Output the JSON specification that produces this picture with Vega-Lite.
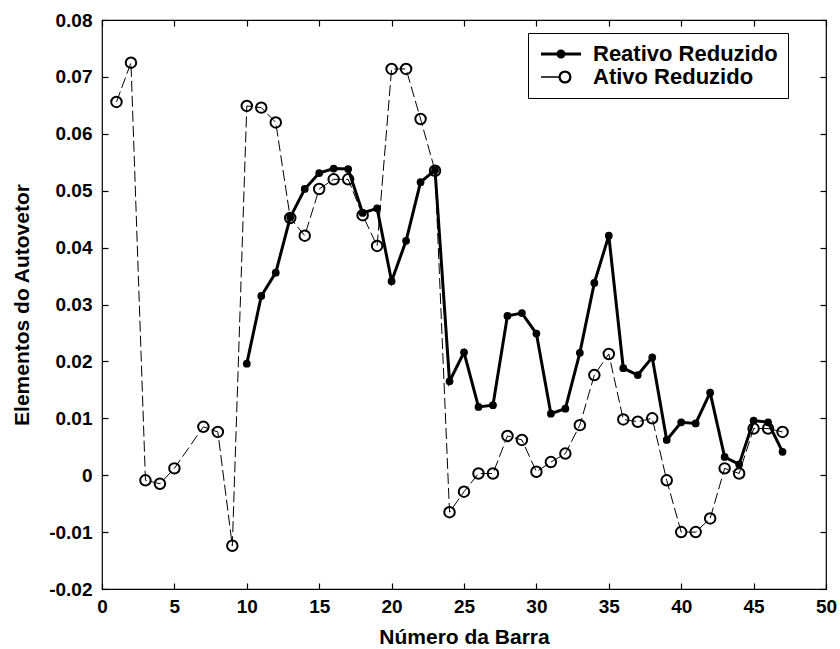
{
  "$schema": "https://vega.github.io/schema/vega-lite/v6.json",
  "width": 724,
  "height": 569,
  "autosize": "none",
  "padding": {"left": 102, "top": 20, "right": 14, "bottom": 60},
  "background": "white",
  "config": {
    "view": {"stroke": "black", "strokeWidth": 1.2},
    "axis": {
      "domain": false,
      "grid": false,
      "ticks": true,
      "tickColor": "black",
      "tickSize": -6,
      "tickWidth": 1.2,
      "labelFont": "Liberation Sans",
      "labelFontWeight": "bold",
      "labelFontSize": 19,
      "labelColor": "black",
      "titleFont": "Liberation Sans",
      "titleFontWeight": "bold",
      "titleFontSize": 21,
      "titleColor": "black"
    }
  },
  "data": {
    "values": [
      {"bar": 10, "serie": "Reativo Reduzido", "valor": 0.0196},
      {"bar": 11, "serie": "Reativo Reduzido", "valor": 0.0315},
      {"bar": 12, "serie": "Reativo Reduzido", "valor": 0.0356},
      {"bar": 13, "serie": "Reativo Reduzido", "valor": 0.0453},
      {"bar": 14, "serie": "Reativo Reduzido", "valor": 0.0503},
      {"bar": 15, "serie": "Reativo Reduzido", "valor": 0.0531},
      {"bar": 16, "serie": "Reativo Reduzido", "valor": 0.0539},
      {"bar": 17, "serie": "Reativo Reduzido", "valor": 0.0538},
      {"bar": 18, "serie": "Reativo Reduzido", "valor": 0.0461},
      {"bar": 19, "serie": "Reativo Reduzido", "valor": 0.0469},
      {"bar": 20, "serie": "Reativo Reduzido", "valor": 0.0341},
      {"bar": 21, "serie": "Reativo Reduzido", "valor": 0.0412},
      {"bar": 22, "serie": "Reativo Reduzido", "valor": 0.0515},
      {"bar": 23, "serie": "Reativo Reduzido", "valor": 0.0536},
      {"bar": 24, "serie": "Reativo Reduzido", "valor": 0.0165},
      {"bar": 25, "serie": "Reativo Reduzido", "valor": 0.0216},
      {"bar": 26, "serie": "Reativo Reduzido", "valor": 0.0120},
      {"bar": 27, "serie": "Reativo Reduzido", "valor": 0.0123},
      {"bar": 28, "serie": "Reativo Reduzido", "valor": 0.0280},
      {"bar": 29, "serie": "Reativo Reduzido", "valor": 0.0285},
      {"bar": 30, "serie": "Reativo Reduzido", "valor": 0.0249},
      {"bar": 31, "serie": "Reativo Reduzido", "valor": 0.0108},
      {"bar": 32, "serie": "Reativo Reduzido", "valor": 0.0117},
      {"bar": 33, "serie": "Reativo Reduzido", "valor": 0.0215},
      {"bar": 34, "serie": "Reativo Reduzido", "valor": 0.0338},
      {"bar": 35, "serie": "Reativo Reduzido", "valor": 0.0421},
      {"bar": 36, "serie": "Reativo Reduzido", "valor": 0.0188},
      {"bar": 37, "serie": "Reativo Reduzido", "valor": 0.0176},
      {"bar": 38, "serie": "Reativo Reduzido", "valor": 0.0207},
      {"bar": 39, "serie": "Reativo Reduzido", "valor": 0.0062},
      {"bar": 40, "serie": "Reativo Reduzido", "valor": 0.0093},
      {"bar": 41, "serie": "Reativo Reduzido", "valor": 0.0091},
      {"bar": 42, "serie": "Reativo Reduzido", "valor": 0.0145},
      {"bar": 43, "serie": "Reativo Reduzido", "valor": 0.0032},
      {"bar": 44, "serie": "Reativo Reduzido", "valor": 0.0019},
      {"bar": 45, "serie": "Reativo Reduzido", "valor": 0.0096},
      {"bar": 46, "serie": "Reativo Reduzido", "valor": 0.0093},
      {"bar": 47, "serie": "Reativo Reduzido", "valor": 0.0041},
      {"bar": 1, "serie": "Ativo Reduzido", "valor": 0.0656},
      {"bar": 2, "serie": "Ativo Reduzido", "valor": 0.0725},
      {"bar": 3, "serie": "Ativo Reduzido", "valor": -0.0009},
      {"bar": 4, "serie": "Ativo Reduzido", "valor": -0.0015},
      {"bar": 5, "serie": "Ativo Reduzido", "valor": 0.0012},
      {"bar": 7, "serie": "Ativo Reduzido", "valor": 0.0085},
      {"bar": 8, "serie": "Ativo Reduzido", "valor": 0.0076},
      {"bar": 9, "serie": "Ativo Reduzido", "valor": -0.0124},
      {"bar": 10, "serie": "Ativo Reduzido", "valor": 0.0649},
      {"bar": 11, "serie": "Ativo Reduzido", "valor": 0.0646},
      {"bar": 12, "serie": "Ativo Reduzido", "valor": 0.0620},
      {"bar": 13, "serie": "Ativo Reduzido", "valor": 0.0452},
      {"bar": 14, "serie": "Ativo Reduzido", "valor": 0.0421},
      {"bar": 15, "serie": "Ativo Reduzido", "valor": 0.0503},
      {"bar": 16, "serie": "Ativo Reduzido", "valor": 0.0520},
      {"bar": 17, "serie": "Ativo Reduzido", "valor": 0.0520},
      {"bar": 18, "serie": "Ativo Reduzido", "valor": 0.0457},
      {"bar": 19, "serie": "Ativo Reduzido", "valor": 0.0403},
      {"bar": 20, "serie": "Ativo Reduzido", "valor": 0.0714},
      {"bar": 21, "serie": "Ativo Reduzido", "valor": 0.0714},
      {"bar": 22, "serie": "Ativo Reduzido", "valor": 0.0626},
      {"bar": 23, "serie": "Ativo Reduzido", "valor": 0.0535},
      {"bar": 24, "serie": "Ativo Reduzido", "valor": -0.0065},
      {"bar": 25, "serie": "Ativo Reduzido", "valor": -0.0029},
      {"bar": 26, "serie": "Ativo Reduzido", "valor": 0.0003},
      {"bar": 27, "serie": "Ativo Reduzido", "valor": 0.0003},
      {"bar": 28, "serie": "Ativo Reduzido", "valor": 0.0069},
      {"bar": 29, "serie": "Ativo Reduzido", "valor": 0.0062},
      {"bar": 30, "serie": "Ativo Reduzido", "valor": 0.0006},
      {"bar": 31, "serie": "Ativo Reduzido", "valor": 0.0023},
      {"bar": 32, "serie": "Ativo Reduzido", "valor": 0.0038},
      {"bar": 33, "serie": "Ativo Reduzido", "valor": 0.0088},
      {"bar": 34, "serie": "Ativo Reduzido", "valor": 0.0176},
      {"bar": 35, "serie": "Ativo Reduzido", "valor": 0.0213},
      {"bar": 36, "serie": "Ativo Reduzido", "valor": 0.0098},
      {"bar": 37, "serie": "Ativo Reduzido", "valor": 0.0094},
      {"bar": 38, "serie": "Ativo Reduzido", "valor": 0.0100},
      {"bar": 39, "serie": "Ativo Reduzido", "valor": -0.0009},
      {"bar": 40, "serie": "Ativo Reduzido", "valor": -0.0100},
      {"bar": 41, "serie": "Ativo Reduzido", "valor": -0.0100},
      {"bar": 42, "serie": "Ativo Reduzido", "valor": -0.0076},
      {"bar": 43, "serie": "Ativo Reduzido", "valor": 0.0012},
      {"bar": 44, "serie": "Ativo Reduzido", "valor": 0.0003},
      {"bar": 45, "serie": "Ativo Reduzido", "valor": 0.0082},
      {"bar": 46, "serie": "Ativo Reduzido", "valor": 0.0082},
      {"bar": 47, "serie": "Ativo Reduzido", "valor": 0.0076}
    ]
  },
  "resolve": {"axis": {"x": "independent", "y": "independent"}},
  "layer": [
    {
      "transform": [{"filter": "datum.serie === 'Reativo Reduzido'"}],
      "mark": {"type": "line", "strokeWidth": 3, "color": "black", "clip": true},
      "encoding": {
        "x": {"field": "bar", "type": "quantitative", "scale": {"domain": [0, 50], "nice": false, "zero": false},
          "axis": {"orient": "bottom", "values": [0, 5, 10, 15, 20, 25, 30, 35, 40, 45, 50], "labelPadding": 14, "title": "Número da Barra", "titlePadding": 10, "labelFlush": false}},
        "y": {"field": "valor", "type": "quantitative", "scale": {"domain": [-0.02, 0.08], "nice": false, "zero": false},
          "axis": {"orient": "left", "values": [-0.02, -0.01, 0, 0.01, 0.02, 0.03, 0.04, 0.05, 0.06, 0.07, 0.08], "labelPadding": 16,
            "labelExpr": "datum.value == 0 ? '0' : (datum.value < 0 ? '-' + format(-datum.value, '.2f') : format(datum.value, '.2f'))",
            "title": "Elementos do Autovetor", "titlePadding": 16, "labelFlush": false}},
        "color": {"field": "serie", "type": "nominal",
          "scale": {"domain": ["Reativo Reduzido", "Ativo Reduzido"], "range": ["black", "black"]},
          "legend": {
            "orient": "none", "legendX": 426, "legendY": 13,
            "title": null,
            "strokeColor": "black", "fillColor": "white", "padding": 10,
            "labelFont": "Liberation Sans", "labelFontWeight": "bold", "labelFontSize": 22, "labelColor": "black",
            "labelLimit": 400,
            "labelOffset": 33, "rowPadding": 1,
            "symbolSize": 1600, "symbolType": "circle",
            "encode": {
              "symbols": {
                "update": {
                  "shape": {"signal": "datum.value === 'Reativo Reduzido' ? 'M-0.4,0H1.6M0.45,0A0.15,0.15 0 1,0 0.75,0A0.15,0.15 0 1,0 0.45,0Z' : 'M-0.4,0H0.52M0.51,0A0.29,0.29 0 1,0 1.09,0A0.29,0.29 0 1,0 0.51,0ZM0.55,0A0.25,0.25 0 1,1 1.05,0A0.25,0.25 0 1,1 0.55,0Z'"},
                  "strokeWidth": {"signal": "datum.value === 'Reativo Reduzido' ? 3 : 1.5"},
                  "fill": {"value": "black"},
                  "stroke": {"value": "black"},
                  "opacity": {"value": 1},
                  "fillOpacity": {"value": 1},
                  "strokeOpacity": {"value": 1},
                  "size": {"value": 1600}
                }
              }
            }
          }}
      }
    },
    {
      "transform": [{"filter": "datum.serie === 'Reativo Reduzido'"}],
      "mark": {"type": "point", "shape": "circle", "filled": true, "size": 60, "opacity": 1, "clip": true},
      "encoding": {
        "x": {"field": "bar", "type": "quantitative", "scale": {"domain": [0, 50], "nice": false, "zero": false},
          "axis": {"orient": "top", "values": [0, 5, 10, 15, 20, 25, 30, 35, 40, 45, 50], "labels": false, "title": null}},
        "y": {"field": "valor", "type": "quantitative", "scale": {"domain": [-0.02, 0.08], "nice": false, "zero": false},
          "axis": {"orient": "right", "values": [-0.02, -0.01, 0, 0.01, 0.02, 0.03, 0.04, 0.05, 0.06, 0.07, 0.08], "labels": false, "title": null}},
        "color": {"field": "serie", "type": "nominal"}
      }
    },
    {
      "transform": [{"filter": "datum.serie === 'Ativo Reduzido'"}],
      "mark": {"type": "line", "strokeWidth": 1, "strokeDash": [11, 4], "color": "black", "clip": true},
      "encoding": {
        "x": {"field": "bar", "type": "quantitative", "scale": {"domain": [0, 50], "nice": false, "zero": false}, "axis": null},
        "y": {"field": "valor", "type": "quantitative", "scale": {"domain": [-0.02, 0.08], "nice": false, "zero": false}, "axis": null},
        "color": {"field": "serie", "type": "nominal"}
      }
    },
    {
      "transform": [{"filter": "datum.serie === 'Ativo Reduzido'"}],
      "mark": {"type": "point", "shape": "circle", "filled": false, "size": 110, "strokeWidth": 2, "opacity": 1, "clip": true},
      "encoding": {
        "x": {"field": "bar", "type": "quantitative", "scale": {"domain": [0, 50], "nice": false, "zero": false}, "axis": null},
        "y": {"field": "valor", "type": "quantitative", "scale": {"domain": [-0.02, 0.08], "nice": false, "zero": false}, "axis": null},
        "color": {"field": "serie", "type": "nominal"}
      }
    }
  ]
}
